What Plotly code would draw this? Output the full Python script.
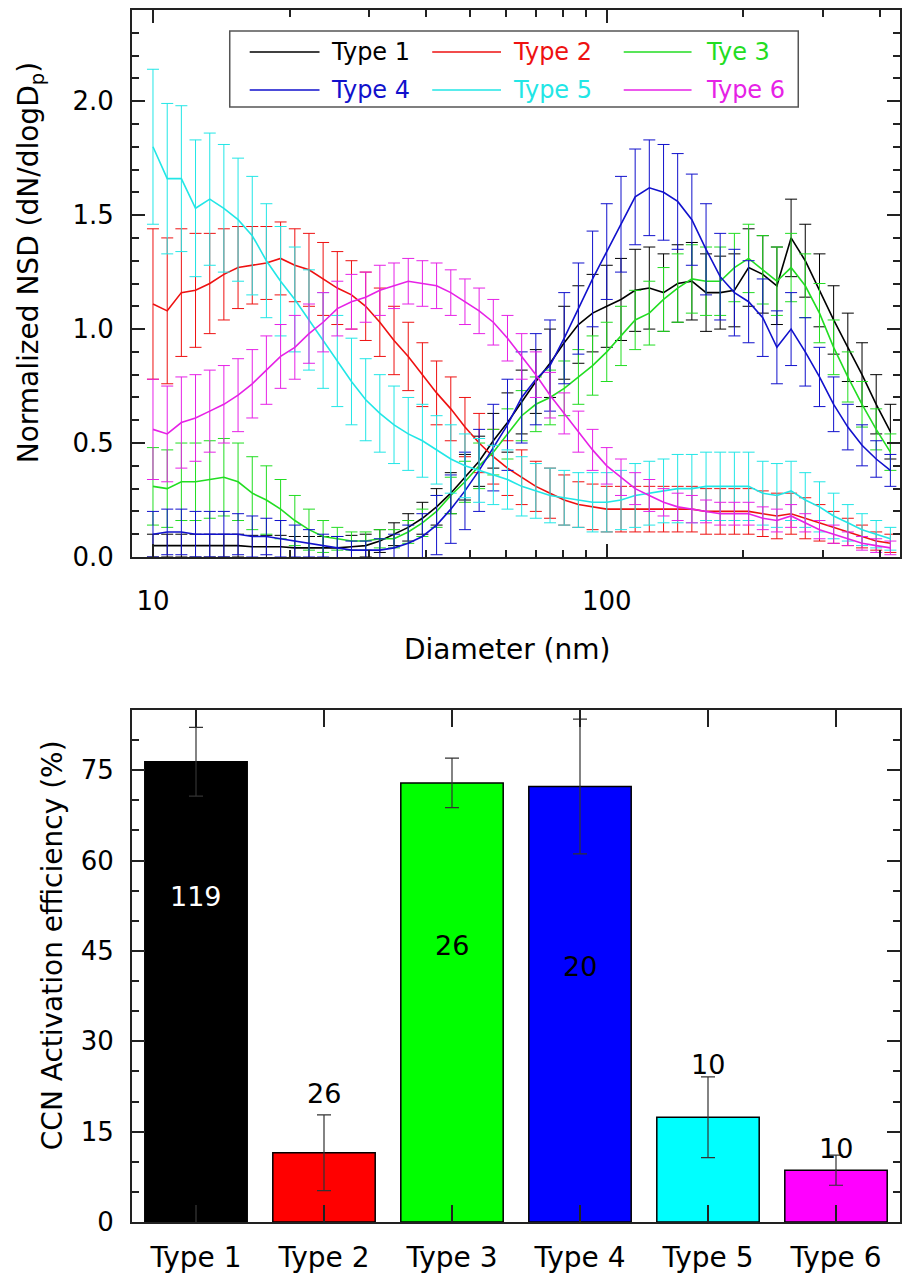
import plotly.graph_objects as go

# ---------------- data: size distributions (top panel) ----------------
diameter_nm = [10.00, 10.75, 11.55, 12.41, 13.34, 14.33, 15.40, 16.55, 17.78, 19.11,
               20.54, 22.07, 23.71, 25.48, 27.38, 29.43, 31.62, 33.98, 36.52, 39.24,
               42.17, 45.32, 48.70, 52.33, 56.23, 60.43, 64.94, 69.78, 74.99, 80.58,
               86.60, 93.06, 100.0, 107.5, 115.5, 124.1, 133.4, 143.3, 154.0, 165.5,
               177.8, 191.1, 205.4, 220.7, 237.1, 254.8, 273.8, 294.3, 316.2, 339.8,
               365.2, 392.4, 421.7]

type1 = [0.05, 0.05, 0.05, 0.05, 0.05, 0.05, 0.05, 0.045, 0.045, 0.045, 0.04, 0.04, 0.04, 0.04, 0.045, 0.05, 0.07,
         0.10, 0.13, 0.17, 0.22, 0.28, 0.35, 0.42, 0.51, 0.59, 0.68, 0.77, 0.85, 0.94, 1.02, 1.07, 1.10, 1.13,
         1.17, 1.18, 1.16, 1.20, 1.21, 1.16, 1.16, 1.17, 1.27, 1.24, 1.19, 1.40, 1.30, 1.17, 1.04, 0.92, 0.80, 0.67, 0.55]
type1_err = [0.05, 0.05, 0.05, 0.05, 0.05, 0.05, 0.05, 0.05, 0.05, 0.05, 0.05, 0.05, 0.05, 0.05, 0.05, 0.05, 0.05,
             0.05, 0.06, 0.07, 0.08, 0.09, 0.10, 0.11, 0.12, 0.13, 0.14, 0.14, 0.15, 0.16, 0.17, 0.17, 0.18, 0.18,
             0.18, 0.18, 0.17, 0.17, 0.17, 0.17, 0.16, 0.16, 0.17, 0.17, 0.17, 0.17, 0.16, 0.16, 0.15, 0.15, 0.14, 0.13, 0.12]

type2 = [1.11, 1.08, 1.16, 1.17, 1.20, 1.24, 1.27, 1.28, 1.29, 1.31, 1.28, 1.26, 1.22, 1.18, 1.15, 1.10, 1.03,
         0.95, 0.88, 0.80, 0.72, 0.65, 0.57, 0.50, 0.44, 0.39, 0.35, 0.31, 0.28, 0.25, 0.23, 0.22, 0.21, 0.21, 0.21, 0.21,
         0.21, 0.21, 0.21, 0.20, 0.20, 0.20, 0.20, 0.19, 0.18, 0.19, 0.17, 0.15, 0.13, 0.11, 0.09, 0.07, 0.06]
type2_err = [0.33, 0.32, 0.28, 0.25, 0.22, 0.20, 0.18, 0.17, 0.16, 0.16, 0.16, 0.16, 0.16, 0.16, 0.15, 0.15, 0.15,
             0.15, 0.15, 0.14, 0.14, 0.14, 0.13, 0.13, 0.12, 0.12, 0.12, 0.11, 0.11, 0.11, 0.10, 0.10, 0.10, 0.10, 0.10, 0.10,
             0.10, 0.10, 0.10, 0.10, 0.10, 0.10, 0.10, 0.10, 0.10, 0.09, 0.09, 0.08, 0.07, 0.06, 0.05, 0.04, 0.04]

type3 = [0.31, 0.30, 0.33, 0.33, 0.34, 0.35, 0.33, 0.28, 0.25, 0.21, 0.16, 0.12, 0.09, 0.08, 0.07, 0.07, 0.08,
         0.08, 0.11, 0.15, 0.20, 0.27, 0.33, 0.40, 0.46, 0.54, 0.62, 0.67, 0.70, 0.74, 0.79, 0.84, 0.90, 0.97,
         1.04, 1.07, 1.13, 1.18, 1.22, 1.21, 1.21, 1.27, 1.31, 1.26, 1.21, 1.27, 1.19, 1.07, 0.92, 0.79, 0.67, 0.56, 0.46]
type3_err = [0.17, 0.17, 0.17, 0.17, 0.17, 0.17, 0.17, 0.16, 0.15, 0.13, 0.11, 0.09, 0.07, 0.05, 0.04, 0.04, 0.04,
             0.04, 0.05, 0.06, 0.07, 0.08, 0.09, 0.10, 0.10, 0.11, 0.11, 0.12, 0.12, 0.12, 0.12, 0.13, 0.13, 0.13,
             0.13, 0.14, 0.14, 0.15, 0.15, 0.15, 0.15, 0.15, 0.15, 0.15, 0.15, 0.15, 0.14, 0.13, 0.12, 0.11, 0.10, 0.09, 0.08]

type4 = [0.10, 0.11, 0.11, 0.10, 0.10, 0.10, 0.10, 0.09, 0.09, 0.08, 0.07, 0.06, 0.05, 0.04, 0.03, 0.03, 0.03,
         0.04, 0.06, 0.09, 0.14, 0.21, 0.29, 0.38, 0.48, 0.58, 0.70, 0.78, 0.84, 0.96, 1.09, 1.22, 1.34, 1.46,
         1.58, 1.62, 1.60, 1.56, 1.48, 1.35, 1.23, 1.16, 1.12, 1.05, 0.92, 1.00, 0.90, 0.79, 0.67, 0.57, 0.49, 0.43, 0.38]
type4_err = [0.10, 0.10, 0.10, 0.10, 0.10, 0.10, 0.09, 0.09, 0.08, 0.08, 0.07, 0.06, 0.05, 0.05, 0.04, 0.04, 0.05,
             0.06, 0.08, 0.10, 0.13, 0.15, 0.17, 0.18, 0.19, 0.20, 0.20, 0.20, 0.20, 0.20, 0.20, 0.21, 0.21, 0.21,
             0.21, 0.21, 0.21, 0.21, 0.20, 0.20, 0.19, 0.19, 0.18, 0.17, 0.16, 0.16, 0.15, 0.13, 0.12, 0.10, 0.09, 0.08, 0.07]

type5 = [1.80, 1.66, 1.66, 1.53, 1.57, 1.53, 1.48, 1.41, 1.30, 1.21, 1.13, 1.04, 0.95, 0.86, 0.77, 0.69, 0.63,
         0.58, 0.54, 0.51, 0.47, 0.43, 0.40, 0.38, 0.36, 0.34, 0.31, 0.29, 0.27, 0.26, 0.25, 0.24, 0.24, 0.25,
         0.27, 0.28, 0.29, 0.30, 0.30, 0.31, 0.31, 0.31, 0.31, 0.28, 0.27, 0.29, 0.25, 0.22, 0.18, 0.15, 0.12, 0.10, 0.08]
type5_err = [0.34, 0.33, 0.32, 0.30, 0.29, 0.28, 0.27, 0.26, 0.25, 0.24, 0.23, 0.22, 0.21, 0.20, 0.19, 0.18, 0.17,
             0.17, 0.16, 0.16, 0.15, 0.15, 0.14, 0.14, 0.13, 0.13, 0.13, 0.12, 0.12, 0.12, 0.12, 0.13, 0.13, 0.13,
             0.14, 0.14, 0.14, 0.15, 0.15, 0.15, 0.15, 0.15, 0.15, 0.14, 0.14, 0.13, 0.12, 0.11, 0.10, 0.08, 0.07, 0.06, 0.05]

type6 = [0.56, 0.54, 0.59, 0.61, 0.64, 0.67, 0.71, 0.76, 0.82, 0.88, 0.92, 0.98, 1.03, 1.09, 1.12, 1.14, 1.17,
         1.19, 1.21, 1.20, 1.19, 1.16, 1.12, 1.08, 1.03, 0.96, 0.88, 0.80, 0.71, 0.63, 0.55, 0.47, 0.40, 0.35, 0.30, 0.27,
         0.24, 0.22, 0.21, 0.20, 0.19, 0.19, 0.19, 0.17, 0.16, 0.18, 0.15, 0.12, 0.10, 0.08, 0.06, 0.05, 0.04]
type6_err = [0.22, 0.21, 0.20, 0.19, 0.18, 0.17, 0.16, 0.15, 0.15, 0.14, 0.14, 0.13, 0.13, 0.12, 0.12, 0.11, 0.11,
             0.10, 0.10, 0.10, 0.10, 0.10, 0.10, 0.10, 0.10, 0.10, 0.10, 0.10, 0.10, 0.09, 0.09, 0.09, 0.08, 0.08, 0.07, 0.07,
             0.06, 0.06, 0.06, 0.05, 0.05, 0.05, 0.05, 0.05, 0.05, 0.05, 0.04, 0.04, 0.04, 0.03, 0.03, 0.03, 0.03]

series_names = ["Type 1", "Type 2", "Tye 3", "Type 4", "Type 5", "Type 6"]
series_colors = ["#000000", "#EE1111", "#22DD22", "#1111CC", "#22E6E6", "#E622E6"]

# ---------------- data: CCN activation (bottom panel) ----------------
bar_types = ["Type 1", "Type 2", "Type 3", "Type 4", "Type 5", "Type 6"]
ccn_eff = [76.4, 11.5, 72.9, 72.3, 17.4, 8.6]
ccn_err = [5.7, 6.3, 4.1, 11.2, 6.7, 2.5]
bar_colors = ["#000000", "#FF0000", "#00FF00", "#0000FF", "#00FFFF", "#FF00FF"]
case_counts = ["119", "26", "26", "20", "10", "10"]
count_label_y = [54.0, 21.3, 45.9, 42.5, 26.2, 12.2]
count_label_color = ["white", "black", "black", "black", "black", "black"]

FONT = "DejaVu Sans, Verdana, sans-serif"
W, H = 902, 1278
ML, MR, MT, MB = 132, 0, 10, 56


def pxx(X):
    return (X - ML) / (W - ML - MR)


def pxy(Y):
    return (H - MB - Y) / (H - MT - MB)


fig = go.Figure()

sizes = [type1, type2, type3, type4, type5, type6]
errs = [type1_err, type2_err, type3_err, type4_err, type5_err, type6_err]
for name, col, yv, ev in zip(series_names, series_colors, sizes, errs):
    fig.add_trace(go.Scatter(
        x=diameter_nm, y=yv, mode="lines", name=name,
        line=dict(color=col, width=1.6),
        error_y=dict(type="data", array=ev, visible=True, color=col, thickness=1, width=6),
        showlegend=False, xaxis="x", yaxis="y"))

fig.add_trace(go.Bar(
    x=bar_types, y=ccn_eff, width=0.8,
    marker=dict(color=bar_colors, line=dict(color="black", width=1.5)),
    error_y=dict(type="data", array=ccn_err, visible=True, color="#333333", thickness=1.2, width=7),
    showlegend=False, xaxis="x2", yaxis="y2"))

tickfont = dict(family=FONT, size=26, color="black")
axcommon = dict(showline=True, linecolor="#222222", linewidth=2, mirror="ticks",
                ticks="inside", tickcolor="#222222", tickwidth=1.5,
                showgrid=False, zeroline=False, tickfont=tickfont)

top_lo = pxy(557)
bot_hi = pxy(710)

fig.update_layout(
    width=W, height=H,
    margin=dict(l=ML, r=MR, t=MT, b=MB),
    paper_bgcolor="white", plot_bgcolor="white",
    font=dict(family=FONT, size=26, color="black"),
    xaxis=dict(type="log", range=[0.9538, 2.6462], domain=[0, 1], anchor="y",
               tickvals=[10, 100], ticktext=["10", "100"], ticklen=13,
               ticklabelstandoff=20,
               minor=dict(tickvals=[20, 30, 40, 50, 60, 70, 80, 90, 200, 300, 400],
                          ticks="inside", ticklen=7, tickwidth=1.5, tickcolor="#222222"),
               **axcommon),
    yaxis=dict(range=[0, 2.4], domain=[top_lo, 1], anchor="x",
               tickvals=[0, 0.5, 1.0, 1.5, 2.0], ticktext=["0.0", "0.5", "1.0", "1.5", "2.0"],
               ticklen=13, ticklabelstandoff=11,
               minor=dict(dtick=0.1, ticks="inside", ticklen=7, tickwidth=1.5, tickcolor="#222222"),
               **axcommon),
    xaxis2=dict(range=[-0.5, 5.5], domain=[0, 1], anchor="y2", ticklen=17,
                ticklabelstandoff=9, **dict(axcommon, tickfont=dict(family=FONT, size=28, color="black"))),
    yaxis2=dict(range=[0, 85], domain=[0, bot_hi], anchor="x2",
                tickvals=[0, 15, 30, 45, 60, 75], ticklen=13, ticklabelstandoff=11,
                minor=dict(dtick=5, ticks="inside", ticklen=7, tickwidth=1.5, tickcolor="#222222"),
                **axcommon),
)

annotations = []
# axis titles
annotations.append(dict(text="Normalized NSD (dN/dlogD<sub>p</sub>)", xref="paper", yref="paper",
                        x=pxx(30), y=pxy(263), textangle=-90, showarrow=False,
                        xanchor="center", yanchor="middle", font=dict(family=FONT, size=28)))
annotations.append(dict(text="Diameter (nm)", xref="paper", yref="paper",
                        x=pxx(508), y=pxy(650), showarrow=False,
                        xanchor="center", yanchor="middle", font=dict(family=FONT, size=28)))
annotations.append(dict(text="CCN Activation efficiency (%)", xref="paper", yref="paper",
                        x=pxx(52), y=pxy(945), textangle=-90, showarrow=False,
                        xanchor="center", yanchor="middle", font=dict(family=FONT, size=28)))
# counts on bars
for i, (t, ly, lc) in enumerate(zip(bar_types, count_label_y, count_label_color)):
    annotations.append(dict(text=case_counts[i], x=t, y=ly, xref="x2", yref="y2",
                            showarrow=False, font=dict(family=FONT, size=27, color=lc),
                            xanchor="center", yanchor="middle"))

# manual legend (Origin style)
shapes = [dict(type="rect", xref="paper", yref="paper", x0=pxx(230), x1=pxx(800),
               y0=pxy(107), y1=pxy(31), line=dict(color="#555555", width=1.5),
               fillcolor="rgba(0,0,0,0)", layer="above")]
col_line_x0 = [250, 433, 625]
col_line_x1 = [320, 502, 693]
col_text_x = [330, 512, 705]
row_y = [52, 90]
for i, (name, col) in enumerate(zip(series_names, series_colors)):
    r, c = divmod(i, 3)
    shapes.append(dict(type="line", xref="paper", yref="paper",
                       x0=pxx(col_line_x0[c]), x1=pxx(col_line_x1[c]),
                       y0=pxy(row_y[r]), y1=pxy(row_y[r]), line=dict(color=col, width=1.6)))
    annotations.append(dict(text=name, xref="paper", yref="paper", x=pxx(col_text_x[c]), y=pxy(row_y[r]),
                            xanchor="left", yanchor="middle", showarrow=False,
                            font=dict(family=FONT, size=24, color=col)))

fig.update_layout(annotations=annotations, shapes=shapes)
fig.write_html("out.html", config={"displayModeBar": False},
               post_script="document.body.style.margin='0px';document.documentElement.style.overflow='hidden';")
